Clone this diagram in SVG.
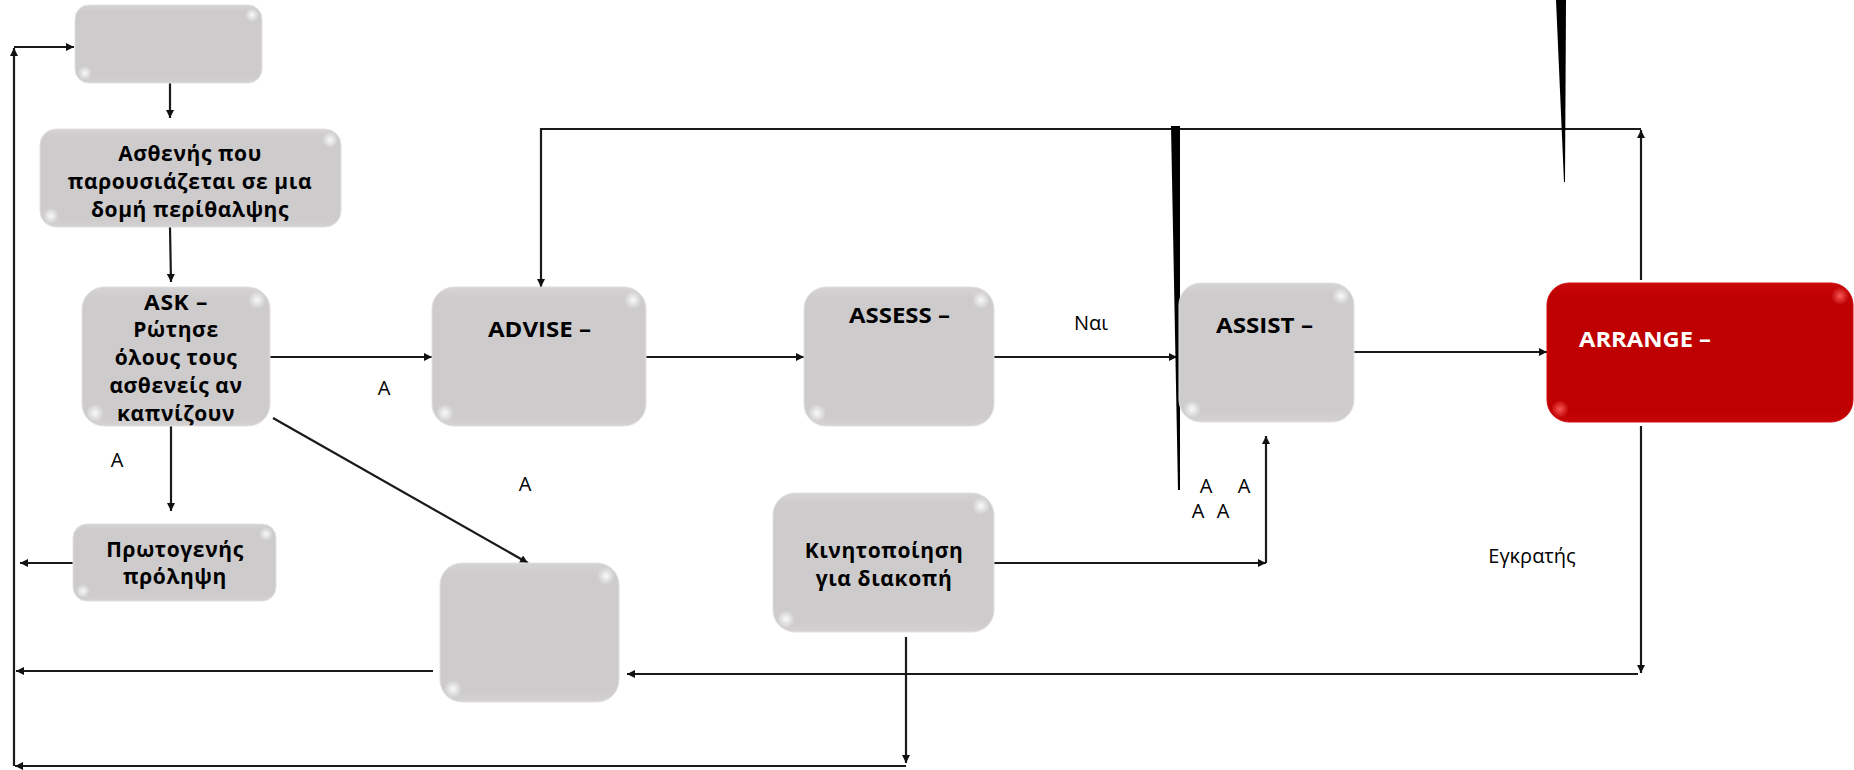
<svg xmlns="http://www.w3.org/2000/svg" width="1854" height="770" viewBox="0 0 1854 770">
<defs>
<linearGradient id="gg" x1="0" y1="0" x2="0" y2="1">
<stop offset="0" stop-color="#d5d3d4"/>
<stop offset="0.08" stop-color="#cdcbcc"/>
<stop offset="0.92" stop-color="#cdcbcc"/>
<stop offset="1" stop-color="#d3d1d2"/>
</linearGradient>
<linearGradient id="rg" x1="0" y1="0" x2="0" y2="1">
<stop offset="0" stop-color="#c80808"/>
<stop offset="0.1" stop-color="#bf0000"/>
<stop offset="0.92" stop-color="#bf0000"/>
<stop offset="1" stop-color="#c60606"/>
</linearGradient>
<radialGradient id="hl">
<stop offset="0" stop-color="#ffffff" stop-opacity="0.9"/>
<stop offset="0.5" stop-color="#ffffff" stop-opacity="0.45"/>
<stop offset="1" stop-color="#ffffff" stop-opacity="0"/>
</radialGradient>
<radialGradient id="hlr">
<stop offset="0" stop-color="#ff6060" stop-opacity="0.9"/>
<stop offset="1" stop-color="#ff6060" stop-opacity="0"/>
</radialGradient>
<marker id="ah" viewBox="0 0 10 10" refX="10" refY="5" markerWidth="9" markerHeight="8" markerUnits="userSpaceOnUse" orient="auto">
<path d="M0,0 L10,5 L0,10 z" fill="#111"/>
</marker>
</defs>
<style>
.box{fill:url(#gg);stroke:#e2e0e1;stroke-width:1}
.red{fill:url(#rg);stroke:#d01010;stroke-width:1}
.hl{fill:url(#hl)}
.hlr{fill:url(#hlr)}
.bt{font-family:"Open Sans","Noto Sans","DejaVu Sans",sans-serif;font-weight:bold;font-size:21px;letter-spacing:0.6px;fill:#000;text-anchor:middle}
.lt{font-family:"Open Sans","Noto Sans","DejaVu Sans",sans-serif;font-weight:bold;font-size:22px;fill:#000}
.lbl{font-family:"Open Sans","Noto Sans","DejaVu Sans",sans-serif;font-size:20px;fill:#000}
.c{fill:none;stroke:#1a1a1a;stroke-width:2.2;marker-end:url(#ah)}
</style>
<rect width="1854" height="770" fill="#ffffff"/>

<g id="connectors">
<path class="c" d="M170,83 V118"/>
<path class="c" d="M170,227 L171,282"/>
<path class="c" d="M270,357 H432"/>
<path class="c" d="M171,426 V511"/>
<path class="c" d="M273,418 L528,563"/>
<path class="c" d="M73,563 H20"/>
<path class="c" d="M646,357 H804"/>
<path class="c" d="M994,357 H1177"/>
<path class="c" d="M1354,352 H1547"/>
<path class="c" d="M1641,280 V130"/>
<path class="c" d="M1641,129 H541 V287"/>
<path class="c" d="M1641,426 V673"/>
<path class="c" d="M1638,674 H627"/>
<path class="c" d="M433,671 H16"/>
<path class="c" d="M906,637 V763"/>
<path class="c" d="M906,766 H15"/>
<path class="c" d="M14,766 V48"/>
<path class="c" d="M14,47 H74"/>
<path class="c" d="M994,563 H1266"/>
<path class="c" d="M1266,563 V436"/>
</g>

<g id="spikes">
<polygon points="1171,126 1180,126 1180,490 1178,490" fill="#000"/>
<polygon points="1556,0 1566,0 1565,182 1564,182" fill="#000"/>
</g>

<g id="node-top">
<rect class="box" x="75" y="5" width="187" height="78" rx="14"/>
<circle class="hl" cx="252" cy="15" r="7"/>
<circle class="hl" cx="85" cy="73" r="7"/>
</g>

<g id="node-patient">
<rect class="box" x="40" y="129" width="301" height="98" rx="16"/>
<circle class="hl" cx="330" cy="140" r="8"/>
<circle class="hl" cx="51" cy="216" r="8"/>
<text class="bt" x="190" y="161">Ασθενής που</text>
<text class="bt" x="190" y="189">παρουσιάζεται σε μια</text>
<text class="bt" x="190" y="217">δομή περίθαλψης</text>
</g>

<g id="node-ask">
<rect class="box" x="82" y="287" width="188" height="139" rx="22"/>
<circle class="hl" cx="257" cy="300" r="9"/>
<circle class="hl" cx="95" cy="413" r="9"/>
<text class="bt" x="176" y="310" textLength="64" lengthAdjust="spacingAndGlyphs">ASK –</text>
<text class="bt" x="176" y="337">Ρώτησε</text>
<text class="bt" x="176" y="365">όλους τους</text>
<text class="bt" x="176" y="393">ασθενείς αν</text>
<text class="bt" x="176" y="421">καπνίζουν</text>
</g>

<g id="node-primary">
<rect class="box" x="73" y="524" width="203" height="77" rx="14"/>
<circle class="hl" cx="266" cy="534" r="7"/>
<circle class="hl" cx="83" cy="591" r="7"/>
<text class="bt" x="175" y="557">Πρωτογενής</text>
<text class="bt" x="175" y="584">πρόληψη</text>
</g>

<g id="node-advise">
<rect class="box" x="432" y="287" width="214" height="139" rx="22"/>
<circle class="hl" cx="633" cy="300" r="9"/>
<circle class="hl" cx="445" cy="413" r="9"/>
<text class="lt" x="488" y="337" textLength="103" lengthAdjust="spacingAndGlyphs">ADVISE –</text>
</g>

<g id="node-assess">
<rect class="box" x="804" y="287" width="190" height="139" rx="22"/>
<circle class="hl" cx="981" cy="300" r="9"/>
<circle class="hl" cx="817" cy="413" r="9"/>
<text class="lt" x="849" y="323" textLength="101" lengthAdjust="spacingAndGlyphs">ASSESS –</text>
</g>

<g id="node-assist">
<rect class="box" x="1179" y="283" width="175" height="139" rx="22"/>
<circle class="hl" cx="1341" cy="296" r="9"/>
<circle class="hl" cx="1192" cy="409" r="9"/>
<text class="lt" x="1216" y="333" textLength="97" lengthAdjust="spacingAndGlyphs">ASSIST –</text>
</g>

<g id="node-arrange">
<rect class="red" x="1547" y="283" width="306" height="139" rx="22"/>
<circle class="hlr" cx="1840" cy="296" r="9"/>
<circle class="hlr" cx="1560" cy="409" r="9"/>
<text class="lt" x="1579" y="347" style="fill:#ffffff" textLength="132" lengthAdjust="spacingAndGlyphs">ARRANGE –</text>
</g>

<g id="node-empty">
<rect class="box" x="440" y="563" width="179" height="139" rx="22"/>
<circle class="hl" cx="606" cy="576" r="9"/>
<circle class="hl" cx="453" cy="689" r="9"/>
</g>

<g id="node-motivation">
<rect class="box" x="773" y="493" width="221" height="139" rx="22"/>
<circle class="hl" cx="981" cy="506" r="9"/>
<circle class="hl" cx="786" cy="619" r="9"/>
<text class="bt" x="884" y="558">Κινητοποίηση</text>
<text class="bt" x="884" y="586">για διακοπή</text>
</g>

<g id="labels">
<text class="lbl" x="384" y="395" text-anchor="middle">Α</text>
<text class="lbl" x="117" y="467" text-anchor="middle">Α</text>
<text class="lbl" x="525" y="491" text-anchor="middle">Α</text>
<text class="lbl" x="1091" y="330" text-anchor="middle">Ναι</text>
<text class="lbl" x="1206" y="493" text-anchor="middle">Α</text>
<text class="lbl" x="1244" y="493" text-anchor="middle">Α</text>
<text class="lbl" x="1198" y="518" text-anchor="middle">Α</text>
<text class="lbl" x="1223" y="518" text-anchor="middle">Α</text>
<text class="lbl" x="1532" y="563" text-anchor="middle">Εγκρατής</text>
</g>
</svg>
